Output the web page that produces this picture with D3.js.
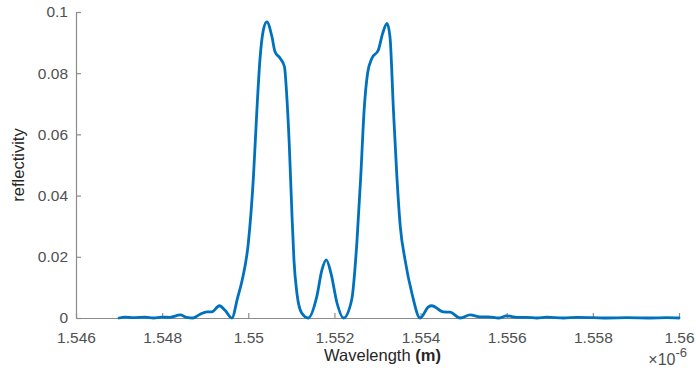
<!DOCTYPE html>
<html>
<head>
<meta charset="utf-8">
<script src="https://cdn.jsdelivr.net/npm/d3@7"></script>
<style>
  html, body { margin: 0; padding: 0; background: #fff; }
  svg { display: block; font-family: "Liberation Sans", Arial, Helvetica, sans-serif; }
</style>
</head>
<body>
<svg id="chart" width="696" height="374"></svg>
<script>
// Wavelength samples (×10^-6 m) and the reflectivity measured at each one
const wavelength = [
  1.54700, 1.54714, 1.54733, 1.54760, 1.54780, 1.54799, 1.54818, 1.54842,
  1.54857, 1.54872, 1.54888, 1.54904, 1.54915, 1.54933, 1.54946, 1.54962,
  1.54975, 1.54986, 1.55000, 1.55012, 1.55020, 1.55027, 1.55035, 1.55043,
  1.55055, 1.55062, 1.55074, 1.55084, 1.55089, 1.55095, 1.55101, 1.55106,
  1.55113, 1.55124, 1.55139, 1.55159, 1.55171, 1.55181, 1.55192, 1.55206,
  1.55221, 1.55240, 1.55252, 1.55261, 1.55269, 1.55277, 1.55287, 1.55302,
  1.55312, 1.55322, 1.55329, 1.55337, 1.55345, 1.55353, 1.55364, 1.55380,
  1.55399, 1.55418, 1.55426, 1.55453, 1.55469, 1.55492, 1.55515, 1.55538,
  1.55558, 1.55581, 1.55600, 1.55624, 1.55647, 1.55670, 1.55693, 1.55732,
  1.55763, 1.55802, 1.55833, 1.55879, 1.55933, 1.55972, 1.56000
];
const reflectivity = [
  0.0000, 0.0003, 0.0001, 0.0003, 0.0000, 0.0003, 0.0002, 0.0010,
  0.0002, 0.0000, 0.0012, 0.0020, 0.0020, 0.0040, 0.0025, 0.0000,
  0.0065, 0.0125, 0.0244, 0.0462, 0.0680, 0.0843, 0.0941, 0.0968,
  0.0919, 0.0870, 0.0849, 0.0821, 0.0734, 0.0572, 0.0353, 0.0190,
  0.0080, 0.0016, 0.0000, 0.0070, 0.0157, 0.0190, 0.0146, 0.0049,
  0.0000, 0.0059, 0.0244, 0.0460, 0.0680, 0.0800, 0.0849, 0.0876,
  0.0930, 0.0963, 0.0919, 0.0680, 0.0462, 0.0298, 0.0190, 0.0080,
  0.0000, 0.0036, 0.0040, 0.0020, 0.0019, 0.0000, 0.0010, 0.0004,
  0.0004, 0.0000, 0.0007, 0.0002, 0.0002, 0.0000, 0.0003, 0.0000,
  0.0002, 0.0001, 0.0000, 0.0001, 0.0000, 0.0001, 0.0000
];
const xTicks = [1.546, 1.548, 1.55, 1.552, 1.554, 1.556, 1.558, 1.56];
const yTicks = [0, 0.02, 0.04, 0.06, 0.08, 0.1];

const svg = d3.select("#chart");
const plotLeft = 76, plotRight = 679, plotTop = 12, plotBottom = 318;

const x = d3.scaleLinear().domain([1.546, 1.56]).range([plotLeft, plotRight]);
const y = d3.scaleLinear().domain([0, 0.1]).range([plotBottom, plotTop]);

const axisColor = "#8c8c8c";
const textColor = "#505050";

// x axis with inward ticks
const gx = svg.append("g").attr("transform", `translate(0,${plotBottom})`)
  .call(d3.axisBottom(x).tickValues(xTicks).tickSizeInner(-5).tickSizeOuter(0)
    .tickPadding(14).tickFormat(d => String(+d.toFixed(3))));
gx.select(".domain").attr("stroke", axisColor).attr("stroke-width", 1.2);
gx.selectAll(".tick line").attr("stroke", axisColor).attr("stroke-width", 1.2);
gx.selectAll(".tick text").attr("fill", textColor).attr("font-size", 15.5)
  .attr("font-family", "Liberation Sans, Arial, sans-serif");

// y axis with inward ticks
const gy = svg.append("g").attr("transform", `translate(${plotLeft},0)`)
  .call(d3.axisLeft(y).tickValues(yTicks).tickSizeInner(-5).tickSizeOuter(0)
    .tickPadding(8).tickFormat(d => String(+d.toFixed(2))));
gy.select(".domain").attr("stroke", axisColor).attr("stroke-width", 1.2);
gy.selectAll(".tick line").attr("stroke", axisColor).attr("stroke-width", 1.2);
gy.selectAll(".tick text").attr("fill", textColor).attr("font-size", 15.5)
  .attr("font-family", "Liberation Sans, Arial, sans-serif");

// reflectivity curve
const pts = wavelength.map((w, i) => [w, reflectivity[i]]);
const line = d3.line().x(d => x(d[0])).y(d => y(d[1])).curve(d3.curveMonotoneX);
svg.append("path").datum(pts)
  .attr("d", line)
  .attr("fill", "none")
  .attr("stroke", "#0072BD")
  .attr("stroke-width", 2.8)
  .attr("stroke-linejoin", "round")
  .attr("stroke-linecap", "round");

// axis titles
svg.append("text")
  .attr("transform", `translate(24,${(plotTop + plotBottom) / 2}) rotate(-90)`)
  .attr("text-anchor", "middle")
  .attr("fill", "#262626")
  .attr("font-size", 16.5)
  .text("reflectivity");

const xl = svg.append("text")
  .attr("x", (plotLeft + plotRight) / 2 + 5)
  .attr("y", 361)
  .attr("text-anchor", "middle")
  .attr("fill", "#262626")
  .attr("font-size", 16.5);
xl.append("tspan").text("Wavelength ");
xl.append("tspan").attr("font-weight", "bold").text("(m)");

// exponent marker under the right end of the x axis
const ex = svg.append("text")
  .attr("x", plotRight + 8)
  .attr("y", 365)
  .attr("text-anchor", "end")
  .attr("fill", textColor)
  .attr("font-size", 16);
ex.append("tspan").text("\u00d710");
ex.append("tspan").attr("dy", -8).attr("font-size", 13).text("-6");
</script>
</body>
</html>
